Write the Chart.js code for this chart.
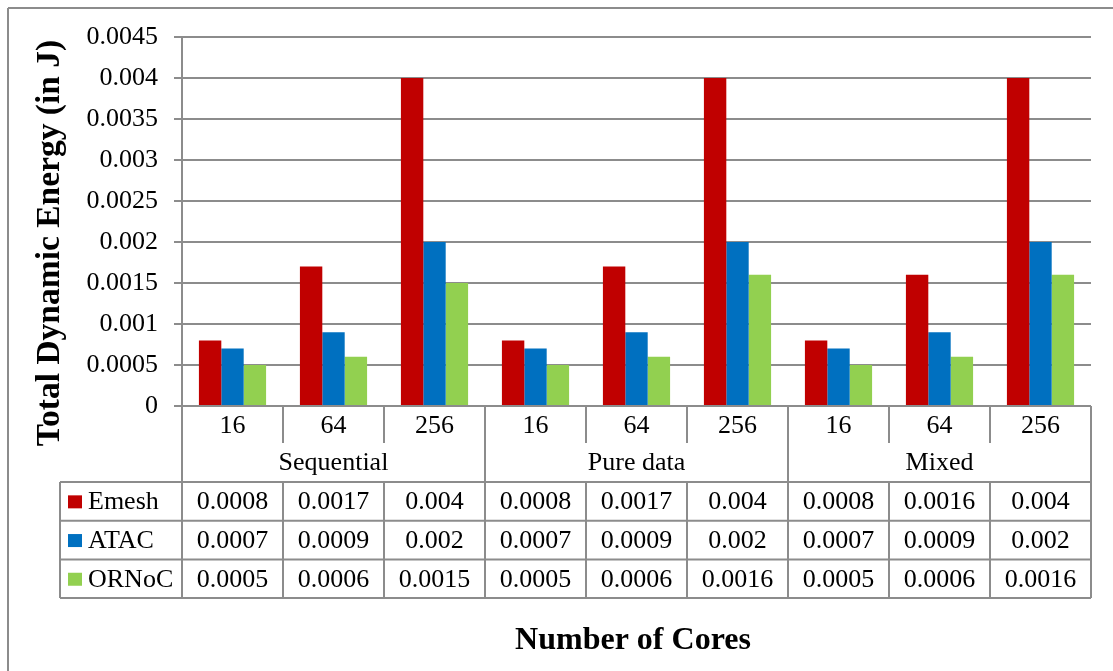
<!DOCTYPE html>
<html>
<head>
<meta charset="utf-8">
<title>Total Dynamic Energy</title>
<script src="https://cdn.jsdelivr.net/npm/chart.js@4"></script>
<style>
  html, body { margin: 0; padding: 0; background: #ffffff; }
  #wrap { width: 1113px; height: 671px; position: relative; }
</style>
</head>
<body>
<div id="wrap"><canvas id="chart" width="1113" height="671"></canvas></div>
<script>
// Core counts per workload, and the workload groups
const coreCounts = ['16', '64', '256'];
const workloads = ['Sequential', 'Pure data', 'Mixed'];
const categories = ['16', '64', '256', '16', '64', '256', '16', '64', '256'];

// Total dynamic energy (J) per network
const seriesNames = ['Emesh', 'ATAC', 'ORNoC'];
const emesh = [0.0008, 0.0017, 0.004, 0.0008, 0.0017, 0.004, 0.0008, 0.0016, 0.004];
const atac  = [0.0007, 0.0009, 0.002, 0.0007, 0.0009, 0.002, 0.0007, 0.0009, 0.002];
const ornoc = [0.0005, 0.0006, 0.0015, 0.0005, 0.0006, 0.0016, 0.0005, 0.0006, 0.0016];
const seriesColors = ['#C00000', '#0070C0', '#92D050'];

// Y axis tick labels, bottom to top
const yTickLabels = ['0', '0.0005', '0.001', '0.0015', '0.002', '0.0025', '0.003', '0.0035', '0.004', '0.0045'];

const yTitle = 'Total Dynamic Energy (in J)';
const xTitle = 'Number of Cores';

const SERIF = '"Liberation Serif", "Times New Roman", serif';
const LINE = '#8c8c8c';

// Data table, axis titles and frame drawn under the plot area
const tablePlugin = {
  id: 'dataTable',
  afterDraw(chart) {
    const ctx = chart.ctx;
    const x = chart.scales.x;
    const area = chart.chartArea;
    const n = categories.length;
    const colW = (area.right - area.left) / n;
    const left = area.left, right = area.right;
    const y0 = area.bottom;          // table top (axis line)
    const rowCat = y0 + 37;          // end of core-count row
    const rowGrp = y0 + 76;          // end of workload row
    const rowH = 38.7;
    const legendLeft = 60;
    const series = [emesh, atac, ornoc];

    ctx.save();
    ctx.strokeStyle = LINE;
    ctx.lineWidth = 2;

    const line = (x1, y1, x2, y2) => {
      ctx.beginPath(); ctx.moveTo(x1, y1); ctx.lineTo(x2, y2); ctx.stroke();
    };

    // frame around the whole chart
    line(8, 8, chart.width, 8);
    line(8, 8, 8, chart.height);

    const tableBottom = rowGrp + rowH * 3;

    // y axis line continued through the table
    line(left, area.top, left, tableBottom);

    // horizontal rules
    line(legendLeft, rowGrp, right, rowGrp);
    for (let r = 1; r <= 3; r++) line(legendLeft, rowGrp + rowH * r, right, rowGrp + rowH * r);
    line(legendLeft, rowGrp, legendLeft, tableBottom);

    // vertical rules
    for (let i = 1; i <= n; i++) {
      const bx = left + colW * i;
      if (i % 3 === 0) {
        line(bx, y0, bx, tableBottom);
      } else {
        line(bx, y0, bx, rowCat);
        line(bx, rowGrp, bx, tableBottom);
      }
    }

    ctx.fillStyle = '#000';
    ctx.font = '26px ' + SERIF;
    ctx.textAlign = 'center';
    ctx.textBaseline = 'middle';

    // core counts
    for (let i = 0; i < n; i++) {
      ctx.fillText(categories[i], x.getPixelForValue(i), y0 + 20);
    }
    // workload groups
    for (let g = 0; g < workloads.length; g++) {
      const gx = left + colW * (g * 3 + 1.5);
      ctx.fillText(workloads[g], gx, rowCat + 20);
    }
    // values
    for (let s = 0; s < series.length; s++) {
      const cy = rowGrp + rowH * s + rowH / 2 + 1;
      for (let i = 0; i < n; i++) {
        ctx.fillText(String(series[s][i]), x.getPixelForValue(i), cy);
      }
      // legend key
      ctx.fillStyle = seriesColors[s];
      ctx.fillRect(68, cy - 7, 14, 13);
      ctx.fillStyle = '#000';
      ctx.textAlign = 'left';
      ctx.fillText(seriesNames[s], 88, cy);
      ctx.textAlign = 'center';
    }

    // axis titles
    ctx.font = 'bold 33.5px ' + SERIF;
    ctx.save();
    ctx.translate(50, 243);
    ctx.rotate(-Math.PI / 2);
    ctx.fillText(yTitle, 0, 0);
    ctx.restore();

    ctx.font = 'bold 32px ' + SERIF;
    ctx.fillText(xTitle, 633, 641);

    ctx.restore();
  }
};

new Chart(document.getElementById('chart'), {
  type: 'bar',
  data: {
    labels: categories,
    datasets: seriesNames.map((name, k) => ({
      label: name,
      data: [emesh, atac, ornoc][k],
      backgroundColor: seriesColors[k],
      borderWidth: 0,
      categoryPercentage: 0.665,
      barPercentage: 1.0
    }))
  },
  options: {
    responsive: false,
    animation: false,
    events: [],
    layout: { padding: { left: 0, top: 37, right: 22, bottom: 265 } },
    plugins: {
      legend: { display: false },
      tooltip: { enabled: false },
      title: { display: false }
    },
    scales: {
      x: {
        display: false,
        offset: true
      },
      y: {
        min: 0,
        max: 0.0045,
        afterFit(scale) { scale.width = 182; },
        afterBuildTicks(scale) {
          scale.ticks = yTickLabels.map((_, i) => ({ value: i * 0.0005 }));
        },
        ticks: {
          color: '#000',
          font: { family: SERIF, size: 26 },
          padding: 16,
          callback: (v, i) => yTickLabels[i]
        },
        grid: {
          color: LINE,
          lineWidth: 2,
          tickLength: 8,
          drawTicks: true
        },
        border: { display: true, color: LINE, width: 2 }
      }
    }
  },
  plugins: [tablePlugin]
});
</script>
</body>
</html>
